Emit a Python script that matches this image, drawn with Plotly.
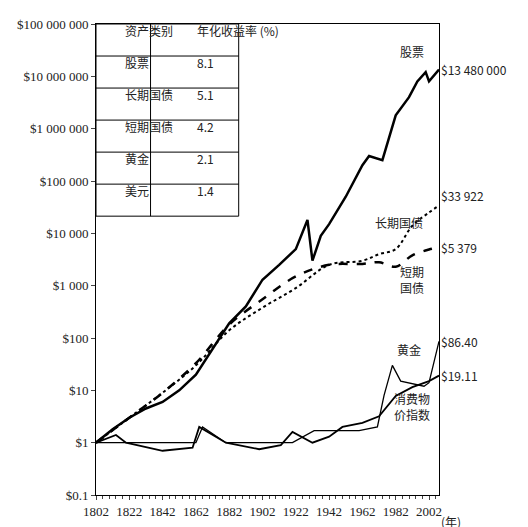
import math
import plotly.graph_objects as go

years_s = [1802,1812,1822,1832,1842,1852,1862,1872,1882,1892,1902,1912,1922,1929,1932,1937,1942,1952,1962,1966,1974,1982,1990,1995,2000,2002,2008]
stocks  = [1,1.8,3,4.5,6,10,20,60,190,400,1300,2500,5000,18000,3000,9000,15000,50000,200000,300000,250000,1800000,4000000,8000000,12000000,8000000,13480000]
years_b = [1802,1822,1842,1862,1882,1902,1922,1942,1962,1972,1982,1992,2002,2008]
bonds   = [1,3,9,30,140,380,900,2500,3000,4000,5000,14000,25000,33922]
bills   = [1,3,9,33,180,550,1500,2500,2600,2800,2300,3800,4900,5379]
years_g = [1802,1830,1850,1862,1866,1880,1900,1920,1933,1940,1960,1971,1975,1980,1985,1999,2002,2008]
gold    = [1,1,1,1,2,1,1,1,1.7,1.7,1.7,2,8,30,15,12,14,86.4]
years_c = [1802,1814,1820,1842,1860,1864,1880,1900,1913,1920,1932,1942,1950,1962,1972,1982,1992,2002,2008]
cpi     = [1,1.4,1,0.7,0.8,2,1,0.75,0.9,1.6,1.0,1.3,2,2.4,3.2,7.8,11.5,15,19.11]
tbl_cat = ["资产类别","股票","长期国债","短期国债","黄金","美元"]
tbl_val = ["年化收益率 (%)","8.1","5.1","4.2","2.1","1.4"]
yticks = [0.1,1,10,100,1000,1e4,1e5,1e6,1e7,1e8]
ylabels = ["$0.1","$1","$10","$100","$1 000","$10 000","$100 000","$1 000 000","$10 000 000","$100 000 000"]

fig = go.Figure()
fig.add_trace(go.Scatter(x=years_s,y=stocks,mode="lines",line=dict(color="black",width=2.5)))
fig.add_trace(go.Scatter(x=years_b,y=bonds,mode="lines",line=dict(color="black",width=2,dash="dot"),line_shape="spline"))
fig.add_trace(go.Scatter(x=years_b,y=bills,mode="lines",line=dict(color="black",width=2.5,dash="dash"),line_shape="spline"))
fig.add_trace(go.Scatter(x=years_g,y=gold,mode="lines",line=dict(color="black",width=1.3)))
fig.add_trace(go.Scatter(x=years_c,y=cpi,mode="lines",line=dict(color="black",width=1.8)))

F = "Noto Sans CJK SC"
ann = []
def A(x,y,t,**k):
    ann.append(dict(x=x,y=math.log10(y),text=t,showarrow=False,font=dict(family=F,size=12,color="#222"),**k))
A(2008,13480000,"$13 480 000",xanchor="left")
A(2008,33922,"$33 922",xanchor="left",yanchor="bottom")
A(2008,5379,"$5 379",xanchor="left")
A(2008,86.4,"$86.40",xanchor="left")
A(2008,19.11,"$19.11",xanchor="left")
A(2000,30000000,"股票",xanchor="right")
A(1984,16000,"长期国债")
A(1992,1300,"短期<br>国债")
A(1990,60,"黄金")
A(1992,5,"消费物<br>价指数")
# table
x0,x1,xs = 0,0.416,0.159
y0,y1 = 0.592,1.0
n=len(tbl_cat); h=(y1-y0)/n
shapes=[dict(type="rect",xref="paper",yref="paper",x0=x0,x1=x1,y0=y0,y1=y1,line=dict(color="black",width=1),fillcolor="white",layer="above")]
for i in range(1,n):
    shapes.append(dict(type="line",xref="paper",yref="paper",x0=x0,x1=x1,y0=y1-i*h,y1=y1-i*h,line=dict(color="black",width=1)))
shapes.append(dict(type="line",xref="paper",yref="paper",x0=xs,x1=xs,y0=y0,y1=y1,line=dict(color="black",width=1)))
for i,(c,v) in enumerate(zip(tbl_cat,tbl_val)):
    yc=y1-(i+0.5)*h
    ann.append(dict(xref="paper",yref="paper",x=(x0+xs)/2,y=yc,yanchor="middle",yshift=10,text=c,showarrow=False,font=dict(family=F,size=12,color="#222")))
    ann.append(dict(xref="paper",yref="paper",x=(xs+x1)/2,y=yc,yanchor="middle",yshift=10,text=v,showarrow=False,font=dict(family=F,size=12,color="#222")))
ann.append(dict(xref="paper",yref="paper",x=1.0,y=-0.035,xanchor="left",yanchor="top",text="(年)",showarrow=False,font=dict(family=F,size=12,color="#222")))

fig.update_layout(width=528,height=527,margin=dict(l=85,r=97,t=9,b=40),plot_bgcolor="white",paper_bgcolor="white",
    showlegend=False,annotations=ann,shapes=shapes,font=dict(family="Liberation Serif",size=13,color="#222"))
fig.update_xaxes(range=[1802,2008],tickvals=list(range(1802,2003,20)),showline=True,linecolor="black",mirror=True,
    ticks="outside",ticklen=4,minor=dict(dtick=4,ticks="outside",ticklen=3,tick0=1802),showgrid=False,zeroline=False)
fig.update_yaxes(type="log",range=[-1,8],tickvals=yticks,ticktext=ylabels,showline=True,linecolor="black",mirror=True,
    ticks="outside",ticklen=4,showgrid=False)
fig.write_html("out.html")
